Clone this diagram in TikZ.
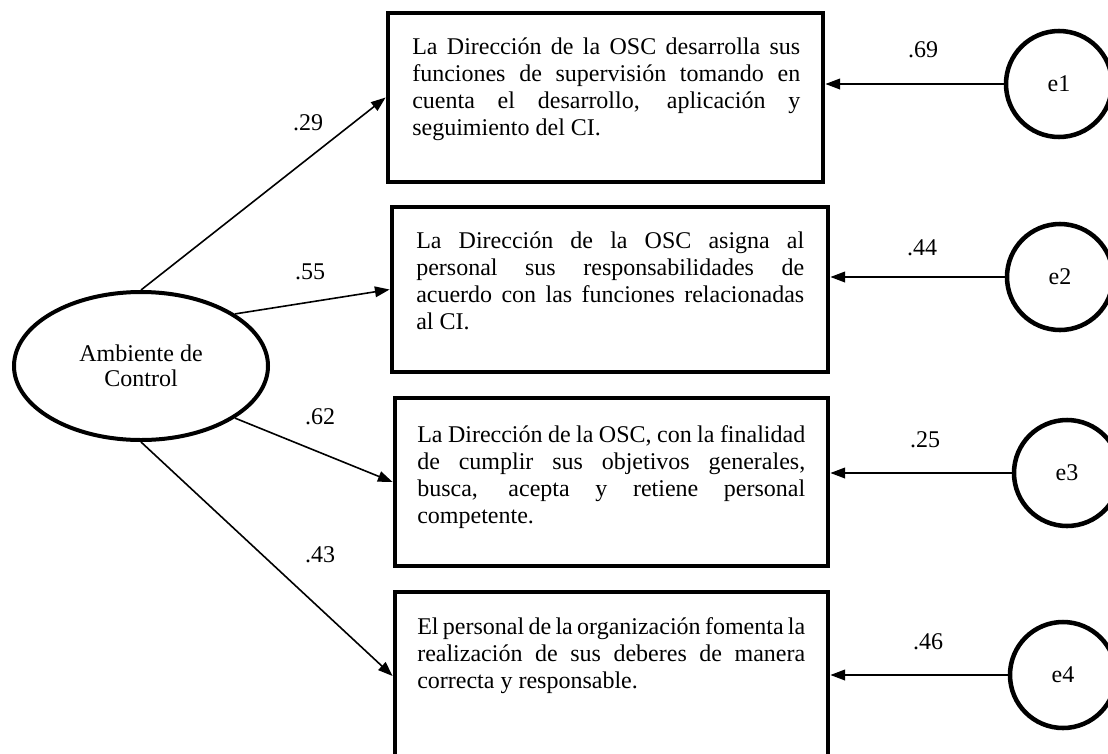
\documentclass[tikz,border=0pt]{standalone}
\usepackage{fontspec}
\setmainfont{Liberation Serif}
\usetikzlibrary{shapes.geometric,arrows.meta}
\newdimen\px \px=0.75pt
\newdimen\tw \tw=388\px
\newcommand{\jline}[1]{\hbox to\tw{#1}}
\newcommand{\lline}[1]{\hbox to\tw{#1\hfil}}
\newcommand{\para}[1]{\vtop{\baselineskip=27\px\lineskiplimit=-10pt #1}}
\tikzset{
  every node/.style={font=\fontsize{18pt}{20pt}\selectfont, inner sep=0pt},
  itembox/.style={draw, line width=3.6pt, rectangle},
  itemtext/.style={anchor=base west},
  latent/.style={draw, ellipse, line width=3pt, minimum width=254\px, minimum height=148\px, align=center},
  errnode/.style={draw, circle, line width=3.4pt, minimum size=106\px},
  conn/.style={line width=1.2pt, -{Triangle[length=11pt,width=8pt]}},
  coef/.style={anchor=center}
}
\begin{document}
\begin{tikzpicture}[x=0.75pt,y=-0.75pt]
\useasboundingbox (0,0) rectangle (1108,754);
\fill[white] (0,0) rectangle (1108,754);
\clip (0,0) rectangle (1108,754);

% latent variable
\node[latent] (ac) at (141,366) {Ambiente de\\[-1pt]Control};

% item boxes
\node[itembox, minimum width=435\px, minimum height=169\px] (b1) at (605.5,97.5) {};
\node[itembox, minimum width=436\px, minimum height=165\px] (b2) at (610,289.5) {};
\node[itembox, minimum width=433\px, minimum height=168\px] (b3) at (611.5,482) {};
\node[itembox, minimum width=433\px, minimum height=168\px] (b4) at (611.5,676) {};

\node[itemtext] (t1) at (412,54) {\para{%
\jline{La Dirección de la OSC desarrolla sus}
\jline{funciones de supervisión tomando en}
\jline{cuenta el desarrollo, aplicación y}
\lline{seguimiento del CI.}}};
\node[itemtext] (t2) at (416,248) {\para{%
\jline{La Dirección de la OSC asigna al}
\jline{personal sus responsabilidades de}
\jline{acuerdo con las funciones relacionadas}
\lline{al CI.}}};
\node[itemtext] (t3) at (417,442) {\para{%
\jline{La Dirección de la OSC, con la finalidad}
\jline{de cumplir sus objetivos generales,}
\jline{busca, acepta y retiene personal}
\lline{competente.}}};
\node[itemtext] (t4) at (417,634) {\para{%
\jline{El personal de la organización fomenta la}
\jline{realización de sus deberes de manera}
\lline{correcta y responsable.}}};

% error terms
\node[errnode] (e1) at (1059,84) {e1};
\node[errnode] (e2) at (1060,277) {e2};
\node[errnode] (e3) at (1067,473) {e3};
\node[errnode] (e4) at (1063,675) {e4};

% loadings
\draw[conn] (ac.north) -- (b1.west);
\draw[conn] (ac.29) -- (b2.west);
\draw[conn] (ac.-29) -- (b3.west);
\draw[conn] (ac.south) -- (b4.west);

% error paths
\draw[conn] (e1.west) -- (b1.east |- e1.west);
\draw[conn] (e2.west) -- (b2.east |- e2.west);
\draw[conn] (e3.west) -- (b3.east |- e3.west);
\draw[conn] (e4.west) -- (b4.east |- e4.west);

% coefficients
\node[coef] (c1) at (308,123) {.29};
\node[coef] (c2) at (310,272) {.55};
\node[coef] (c3) at (320,417) {.62};
\node[coef] (c4) at (320,555) {.43};
\node[coef] (c5) at (923,50) {.69};
\node[coef] (c6) at (922,248) {.44};
\node[coef] (c7) at (925,440) {.25};
\node[coef] (c8) at (928,642) {.46};
\end{tikzpicture}
\end{document}
